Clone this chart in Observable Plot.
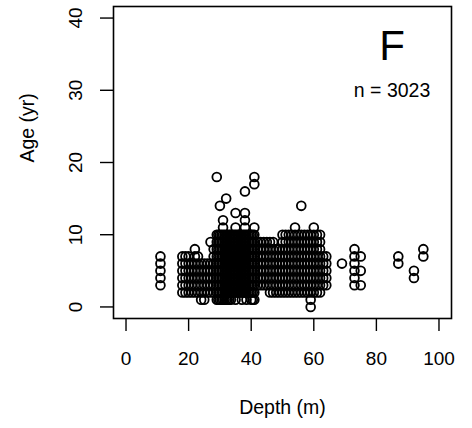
<!DOCTYPE html>
<html><head><meta charset="utf-8">
<script src="https://cdn.jsdelivr.net/npm/d3@7"></script>
<script src="https://cdn.jsdelivr.net/npm/@observablehq/plot@0.6"></script>
<style>body{margin:0;background:#fff}</style>
</head><body><div id="chart"></div>
<script>
// Tick labels
const xTicks = [0, 20, 40, 60, 80, 100];
const yTicks = [0, 10, 20, 30, 40];

// Clusters: depth list x age list
const shallowDepths = [11];
const shallowAges = [3, 4, 5, 6, 7];
const leftDepths = [18, 19, 20, 21, 22, 23, 24, 25, 26, 27, 28];
const leftAges = [2, 3, 4, 5, 6];
const leftTopDepths = [18, 19, 20, 22, 23];
const leftTopAges = [7];
const leftLowDepths = [24, 25];
const leftLowAges = [1];
const mainDepths = [29, 29.5, 30, 30.5, 31, 31.5, 32, 32.5, 33, 33.5, 34, 34.5, 35, 35.5, 36, 36.5, 37, 37.5, 38, 38.5, 39, 39.5, 40, 40.5, 41];
const mainAges = [2, 3, 4, 5, 6, 7, 8, 9, 10];
const mainLowDepths = [29, 29.5, 30, 30.5, 31, 31.5, 32, 32.5, 33, 33.5, 35, 37, 38.5, 40, 40.5, 41];
const mainLowAges = [1];
const midDepths = [42, 43, 44, 45, 46, 47];
const midAges = [3, 4, 5, 6, 7, 8, 9];
const linkDepths = [48, 49];
const linkAges = [3, 4, 5, 6, 7, 8];
const rightDepths = [50, 51, 52, 53, 54, 55, 56, 57, 58, 59, 60, 61, 62];
const rightAges = [3, 4, 5, 6, 7, 8, 9, 10];
const rightLowDepths = [46, 47, 48, 49, 50, 51, 52, 53, 54, 55, 56, 57, 58, 59, 60, 61, 62];
const rightLowAges = [2];
const rightEdgeDepths = [63, 64];
const rightEdgeAges = [3, 4, 5, 6, 7];

// Individual points
const singleDepths = [22, 27, 28, 28, 29, 30, 31, 31, 32, 35, 35, 38, 38, 38, 38, 41, 41, 41, 54, 60, 56, 59, 59, 69, 73, 73, 73, 73, 73, 73, 75, 75, 75, 87, 87, 92, 92, 95, 95];
const singleAges   = [8, 9, 7, 8, 18, 14, 12, 11, 15, 13, 11, 16, 13, 12, 11, 18, 17, 11, 11, 11, 14, 1, 0, 6, 3, 4, 5, 6, 7, 8, 3, 5, 7, 6, 7, 4, 5, 7, 8];

// Annotations
const panelLabel = ["F"];
const panelLabelPos = [85, 36];
const countLabel = ["n = 3023"];
const countLabelPos = [85, 30];
const xTitle = "Depth (m)";
const yTitle = "Age (yr)";

const grid = (ds, as) => as.flatMap(a => ds.map(d => ({depth: d, age: a})));
const data = [
  ...grid(shallowDepths, shallowAges),
  ...grid(leftDepths, leftAges),
  ...grid(leftTopDepths, leftTopAges),
  ...grid(leftLowDepths, leftLowAges),
  ...grid(mainDepths, mainAges),
  ...grid(mainLowDepths, mainLowAges),
  ...grid(midDepths, midAges),
  ...grid(linkDepths, linkAges),
  ...grid(rightDepths, rightAges),
  ...grid(rightLowDepths, rightLowAges),
  ...grid(rightEdgeDepths, rightEdgeAges),
  ...singleDepths.map((d, i) => ({depth: d, age: singleAges[i]}))
];

const font = "'Liberation Sans', Arial, sans-serif";
const plot = Plot.plot({
  width: 472, height: 428,
  marginLeft: 113, marginRight: 21, marginTop: 6, marginBottom: 110,
  style: {fontFamily: font, fontSize: "19px", background: "#fff", color: "#000"},
  x: {domain: [-4, 104]},
  y: {domain: [-1.6, 41.6]},
  marks: [
    Plot.axisX(xTicks, {tickSize: 13, tickPadding: 20, tickFormat: d => String(d), label: null, strokeWidth: 1.4, fontSize: 19}),
    Plot.axisY(yTicks, {tickSize: 13, tickPadding: 19, tickRotate: -90, tickFormat: d => String(d), label: null, strokeWidth: 1.4, fontSize: 19}),
    Plot.dot(data, {x: "depth", y: "age", r: 4.4, stroke: "#000", strokeWidth: 1.8, fill: "none"}),
    Plot.frame({stroke: "#000", strokeWidth: 1.6}),
    Plot.text(panelLabel, {x: () => panelLabelPos[0], y: () => panelLabelPos[1], text: d => d, fontSize: 42, fill: "#000"}),
    Plot.text(countLabel, {x: () => countLabelPos[0], y: () => countLabelPos[1], text: d => d, fontSize: 19.5, fill: "#000"}),
    Plot.text([xTitle], {frameAnchor: "bottom", dy: 95, text: d => d, fontSize: 19.5, fill: "#000"}),
    Plot.text([yTitle], {frameAnchor: "left", dx: -86, rotate: -90, text: d => d, fontSize: 19.5, fill: "#000"})
  ]
});
document.getElementById("chart").appendChild(plot);
</script></body></html>
